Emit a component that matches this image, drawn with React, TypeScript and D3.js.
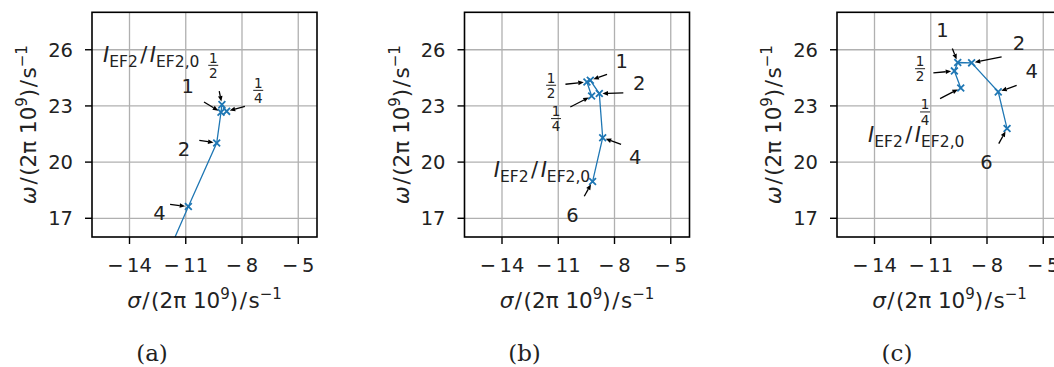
import React from "react";
import * as d3 from "d3";

// Normalised intensity levels I_EF2 / I_EF2,0 (same order along each trajectory)
const intensityLabels = ["1/4", "1/2", "1", "2", "4", "6"];

// Panel (a): eigenvalue trajectory, sigma and omega in units of 2π·10^9 s^-1
const sigmaA = [-8.82, -9.07, -9.12, -9.35, -10.86, -12.4];
const omegaA = [22.71, 23.07, 22.66, 21.02, 17.63, 14.1];

// Panel (b)
const sigmaB = [-9.22, -9.47, -9.29, -8.81, -8.63, -9.17];
const omegaB = [23.53, 24.28, 24.37, 23.66, 21.3, 18.96];

// Panel (c)
const sigmaC = [-9.4, -9.74, -9.56, -8.82, -7.4, -6.93];
const omegaC = [23.96, 24.87, 25.32, 25.3, 23.75, 21.79];

const xTickValues = [-14, -11, -8, -5];
const yTickValues = [17, 20, 23, 26];
const xDomain: [number, number] = [-16, -4];
const yDomain: [number, number] = [16, 28];
const panelCaptions = ["(a)", "(b)", "(c)"];

// Annotation placement in pixels relative to each marker:
// [arrow tail dx, arrow tail dy, label dx, label dy]; null = no annotation
type Offs = [number, number, number, number] | null;
const annotOffsetsA: Offs[] = [
  [18.3, -5, 31.6, -21],
  [-2.7, -13.6, -8.7, -39.3],
  [-17, -10.3, -33.3, -26],
  [-17.4, -2.7, -32.7, 5.6],
  [-18.3, -2, -29, 6.7],
  null,
];
const annotOffsetsB: Offs[] = [
  [-21.3, 11, -35.6, 22.6],
  [-21.5, 2.3, -35.8, 3.3],
  [16.7, -6, 31.3, -19.3],
  [24, -0.6, 40, -11],
  [18.4, 6.7, 32.4, 19.4],
  [-8.3, 14.7, -20, 33],
];
const annotOffsetsC: Offs[] = [
  [-20.7, 10.6, -35.7, 24],
  [-21, 2, -34.3, -2.2],
  [-5.4, -14, -15.4, -33],
  [30, -6, 47.3, -19.4],
  [18.4, -6.4, 33.4, -20.7],
  [-8.3, 15, -20.6, 33.4],
];
// Position of the "I_EF2/I_EF2,0" legend text relative to the axes' top-left corner
const ratioLabelPos: [number, number][] = [
  [11, 49.7],
  [29.3, 164.7],
  [31, 129.2],
];

const panels = [
  { sigma: sigmaA, omega: omegaA, annot: annotOffsetsA },
  { sigma: sigmaB, omega: omegaB, annot: annotOffsetsB },
  { sigma: sigmaC, omega: omegaC, annot: annotOffsetsC },
];

const W = 1054;
const H = 367;
const PANEL_STEP = 372.5;
const AX_LEFT = 92;
const AX_TOP = 12.3;
const AX_W = 225;
const AX_H = 224.7;
const BLUE = "#1f77b4";
const FONT = "'DejaVu Sans', sans-serif";
const TEXT = "#222";
const TICK_FS = 19.5;
const LABEL_FS = 21.5;
const SUP_FS = 15;

function MinusNumber({ v }: { v: number }) {
  if (v < 0) {
    return (
      <>
        <tspan>{"\u2212"}</tspan>
        <tspan dx={3.5}>{String(Math.abs(v))}</tspan>
      </>
    );
  }
  return <>{String(v)}</>;
}

function Fraction({ x, y, num, den }: { x: number; y: number; num: string; den: string }) {
  return (
    <g>
      <text x={x} y={y - 2.6} textAnchor="middle" fontSize={13.5} fontFamily={FONT} fill={TEXT}>
        {num}
      </text>
      <line x1={x - 5} x2={x + 5} y1={y} y2={y} stroke={TEXT} strokeWidth={1} />
      <text x={x} y={y + 12.6} textAnchor="middle" fontSize={13.5} fontFamily={FONT} fill={TEXT}>
        {den}
      </text>
    </g>
  );
}

function AxisLabel({ symbol }: { symbol: string }) {
  return (
    <>
      <tspan fontStyle="italic">{symbol}</tspan>
      <tspan dx={1.5}>/</tspan>
      <tspan dx={1.5}>(2π 10</tspan>
      <tspan fontSize={SUP_FS} dy={-9}>9</tspan>
      <tspan dy={9}>)</tspan>
      <tspan dx={1.5}>/</tspan>
      <tspan dx={1.5}>s</tspan>
      <tspan fontSize={SUP_FS} dy={-9}>{"\u22121"}</tspan>
    </>
  );
}

function Panel({ idx }: { idx: number }) {
  const { sigma, omega, annot } = panels[idx];
  const left = AX_LEFT + idx * PANEL_STEP;
  const x = d3.scaleLinear().domain(xDomain).range([left, left + AX_W]);
  const y = d3.scaleLinear().domain(yDomain).range([AX_TOP + AX_H, AX_TOP]);
  const pts = sigma.map((s, i) => [s, omega[i]] as [number, number]);
  const line = d3
    .line<[number, number]>()
    .x((d) => x(d[0]))
    .y((d) => y(d[1]));
  const clipId = `clip-${idx}`;
  const bottom = AX_TOP + AX_H;
  const inside = (px: number, py: number) =>
    px >= left && px <= left + AX_W && py >= AX_TOP && py <= bottom;
  const cx = left + AX_W / 2;
  const cy = AX_TOP + AX_H / 2;
  const [rlx, rly] = ratioLabelPos[idx];

  return (
    <g>
      <defs>
        <clipPath id={clipId}>
          <rect x={left} y={AX_TOP} width={AX_W} height={AX_H} />
        </clipPath>
      </defs>
      {/* grid */}
      <g stroke="#b0b0b0" strokeWidth={1.3}>
        {xTickValues.map((t) => (
          <line key={`gx${t}`} x1={x(t)} x2={x(t)} y1={AX_TOP} y2={bottom} />
        ))}
        {yTickValues.map((t) => (
          <line key={`gy${t}`} x1={left} x2={left + AX_W} y1={y(t)} y2={y(t)} />
        ))}
      </g>
      {/* trajectory */}
      <g clipPath={`url(#${clipId})`}>
        <path d={line(pts) || ""} fill="none" stroke={BLUE} strokeWidth={1.3} />
        {pts.map((p, i) => {
          const px = x(p[0]);
          const py = y(p[1]);
          const r = 3.4;
          return (
            <path
              key={`m${i}`}
              d={`M${px - r},${py - r}L${px + r},${py + r}M${px - r},${py + r}L${px + r},${py - r}`}
              stroke={BLUE}
              strokeWidth={1.8}
            />
          );
        })}
      </g>
      {/* annotations */}
      {pts.map((p, i) => {
        const o = annot[i];
        const px = x(p[0]);
        const py = y(p[1]);
        if (!o || !inside(px, py)) return null;
        const [tdx, tdy, ldx, ldy] = o;
        const len = Math.hypot(tdx, tdy);
        const ux = tdx / len;
        const uy = tdy / len;
        const hx = px + ux * 3.2;
        const hy = py + uy * 3.2;
        const headLen = 5.5;
        const headW = 2.3;
        const bx = hx + ux * headLen;
        const by = hy + uy * headLen;
        const lab = intensityLabels[i];
        const lx = px + ldx;
        const ly = py + ldy;
        return (
          <g key={`a${i}`}>
            <line x1={px + tdx} y1={py + tdy} x2={bx} y2={by} stroke="#000" strokeWidth={1.3} />
            <path
              d={`M${hx},${hy}L${bx - uy * headW},${by + ux * headW}L${bx + uy * headW},${by - ux * headW}Z`}
              fill="#000"
            />
            {lab.includes("/") ? (
              <Fraction x={lx} y={ly} num={lab.split("/")[0]} den={lab.split("/")[1]} />
            ) : (
              <text x={lx} y={ly} dy="0.36em" textAnchor="middle" fontSize={19.5} fontFamily={FONT} fill={TEXT}>
                {lab}
              </text>
            )}
          </g>
        );
      })}
      {/* ratio label */}
      <text x={left + rlx} y={AX_TOP + rly} fontSize={21} fontFamily={FONT} fill={TEXT}>
        <tspan fontStyle="italic">I</tspan>
        <tspan fontSize={15.5} dy={5}>EF2</tspan>
        <tspan dy={-5} dx={2.5}>/</tspan>
        <tspan fontStyle="italic" dx={2.5}>I</tspan>
        <tspan fontSize={15.5} dy={5}>EF2,0</tspan>
      </text>
      {/* spines */}
      <rect x={left} y={AX_TOP} width={AX_W} height={AX_H} fill="none" stroke="#000" strokeWidth={1.6} />
      {/* ticks */}
      <g stroke="#000" strokeWidth={1.4}>
        {xTickValues.map((t) => (
          <line key={`tx${t}`} x1={x(t)} x2={x(t)} y1={bottom} y2={bottom + 7} />
        ))}
        {yTickValues.map((t) => (
          <line key={`ty${t}`} x1={left - 7} x2={left} y1={y(t)} y2={y(t)} />
        ))}
      </g>
      {xTickValues.map((t) => (
        <text key={`lx${t}`} x={x(t)} y={bottom + 35} textAnchor="middle" fontSize={TICK_FS} fontFamily={FONT} fill={TEXT}>
          <MinusNumber v={t} />
        </text>
      ))}
      {yTickValues.map((t) => (
        <text key={`ly${t}`} x={left - 19} y={y(t)} dy="0.36em" textAnchor="end" fontSize={TICK_FS} fontFamily={FONT} fill={TEXT}>
          {t}
        </text>
      ))}
      {/* axis labels */}
      <text x={cx} y={308} textAnchor="middle" fontSize={LABEL_FS} fontFamily={FONT} fill={TEXT}>
        <AxisLabel symbol="σ" />
      </text>
      <text
        transform={`translate(${left - 56},${cy}) rotate(-90)`}
        textAnchor="middle"
        fontSize={LABEL_FS}
        fontFamily={FONT}
        fill={TEXT}
      >
        <AxisLabel symbol="ω" />
      </text>
      {/* caption */}
      <text x={left + 60} y={361} textAnchor="middle" fontSize={23} fontFamily="'DejaVu Serif', serif" fill={TEXT}>
        {panelCaptions[idx]}
      </text>
    </g>
  );
}

export default function App() {
  return (
    <svg
      width={W}
      height={H}
      viewBox={`0 0 ${W} ${H}`}
      style={{ position: "absolute", left: 0, top: 0, background: "#fff" }}
    >
      <rect width={W} height={H} fill="#fff" />
      {panels.map((_, i) => (
        <Panel key={i} idx={i} />
      ))}
    </svg>
  );
}
